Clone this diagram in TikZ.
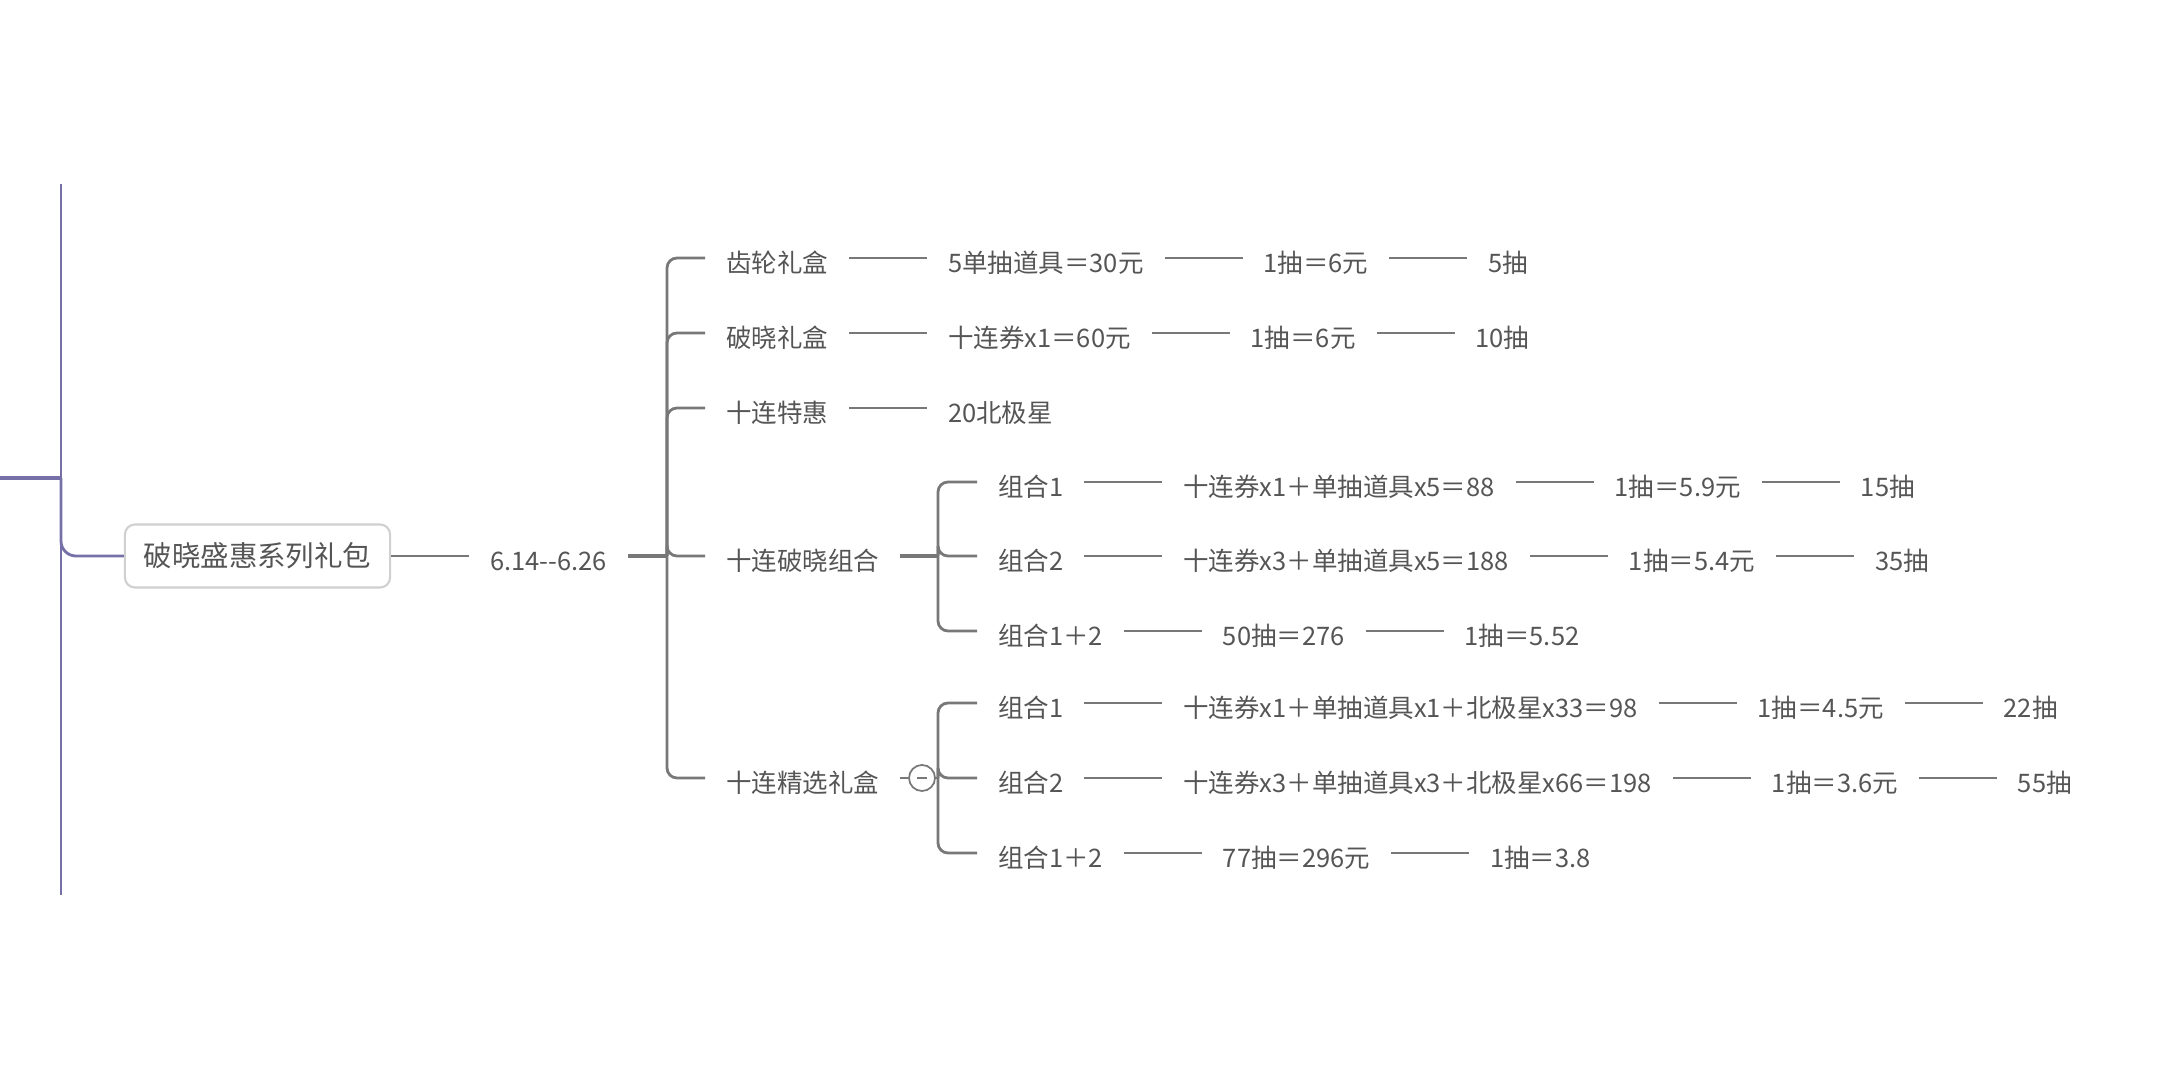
\documentclass[tikz,border=0pt]{standalone}
\usepackage{fontspec}
\setmainfont{Noto Sans CJK SC}
\usetikzlibrary{positioning}
\definecolor{linegray}{RGB}{120,120,120}
\definecolor{textgray}{RGB}{85,85,85}
\definecolor{boxgray}{RGB}{208,208,208}
\definecolor{mappurple}{RGB}{118,112,168}
\tikzset{
    line/.style={
        linegray,
        line width=0.6pt
    },
    trunk/.style={
        line,
        line width=0.8pt,
        rounded corners=0.1cm
    },
    joint/.style={
        line,
        line width=1.3pt
    },
    mapline/.style={
        mappurple,
        line width=0.8pt
    },
    item/.style={
        text=textgray,
        font=\fontsize{7.25pt}{8pt}\selectfont,
        inner xsep=0.21cm,
        inner ysep=0pt,
        text height=0.29cm,
        text depth=0cm,
        outer sep=0pt
    },
    follow/.style={
        item,
        right=0.78cm of #1
    },
    rootbox/.style={
        draw=boxgray,
        fill=white,
        line width=0.6pt,
        rounded corners=0.1cm,
        minimum width=2.65cm,
        minimum height=0.63cm,
        text=textgray,
        font=\fontsize{8.1pt}{9pt}\selectfont
    },
    fold/.style={
        circle,
        draw=linegray,
        line width=0.5pt,
        minimum size=0.26cm,
        inner sep=0pt
    }
}

\begin{document}
\begin{tikzpicture}[x=0.01cm, y=-0.01cm]
    \useasboundingbox (0, 0) rectangle (2160, 1080);

    % left edge of the map
    \coordinate (ptop) at (61, 184);
    \coordinate (pbot) at (61, 895);
    \coordinate (pleft) at (0, 478);
    \coordinate (pjoin) at (61, 478);

    \node [rootbox] (root) at (257.5, 556) {破晓盛惠系列礼包};
    \node [follow=root] (date) {6.14-{}-6.26};

    \draw [mapline] (ptop) -- (pbot);
    \draw [mapline, line width=1.2pt] (pleft) -- (pjoin);
    \draw [mapline, rounded corners=0.15cm] (pjoin) |- (root.west);

    % first level
    \coordinate (j1) at (667, 556);
    \node [item, anchor=west] (a1) at (705, 258) {齿轮礼盒};
    \node [follow=a1] (a2) {5单抽道具＝30元};
    \node [follow=a2] (a3) {1抽＝6元};
    \node [follow=a3] (a4) {5抽};

    \node [item, anchor=west] (b1) at (705, 333) {破晓礼盒};
    \node [follow=b1] (b2) {十连券x1＝60元};
    \node [follow=b2] (b3) {1抽＝6元};
    \node [follow=b3] (b4) {10抽};

    \node [item, anchor=west] (c1) at (705, 408) {十连特惠};
    \node [follow=c1] (c2) {20北极星};

    \node [item, anchor=west] (grp1) at (705, 556) {十连破晓组合};
    \node [item, anchor=west] (grp2) at (705, 778) {十连精选礼盒};

    % 十连破晓组合
    \coordinate (j2) at (938, 556);
    \node [item, anchor=west] (d1a) at (977, 482) {组合1};
    \node [follow=d1a] (d1b) {十连券x1＋单抽道具x5＝88};
    \node [follow=d1b] (d1c) {1抽＝5.9元};
    \node [follow=d1c] (d1d) {15抽};

    \node [item, anchor=west] (d2a) at (977, 556) {组合2};
    \node [follow=d2a] (d2b) {十连券x3＋单抽道具x5＝188};
    \node [follow=d2b] (d2c) {1抽＝5.4元};
    \node [follow=d2c] (d2d) {35抽};

    \node [item, anchor=west] (d3a) at (977, 631) {组合1＋2};
    \node [follow=d3a] (d3b) {50抽＝276};
    \node [follow=d3b] (d3c) {1抽＝5.52};

    % 十连精选礼盒
    \node [fold] (fold) at (922, 778) {};
    \coordinate (j3) at (938, 778);
    \node [item, anchor=west] (e1a) at (977, 703) {组合1};
    \node [follow=e1a] (e1b) {十连券x1＋单抽道具x1＋北极星x33＝98};
    \node [follow=e1b] (e1c) {1抽＝4.5元};
    \node [follow=e1c] (e1d) {22抽};

    \node [item, anchor=west] (e2a) at (977, 778) {组合2};
    \node [follow=e2a] (e2b) {十连券x3＋单抽道具x3＋北极星x66＝198};
    \node [follow=e2b] (e2c) {1抽＝3.6元};
    \node [follow=e2c] (e2d) {55抽};

    \node [item, anchor=west] (e3a) at (977, 853) {组合1＋2};
    \node [follow=e3a] (e3b) {77抽＝296元};
    \node [follow=e3b] (e3c) {1抽＝3.8};

    % connectors
    \foreach \a/\b in {root/date, a1/a2, a2/a3, a3/a4, b1/b2, b2/b3, b3/b4, c1/c2,
        d1a/d1b, d1b/d1c, d1c/d1d, d2a/d2b, d2b/d2c, d2c/d2d, d3a/d3b, d3b/d3c,
        e1a/e1b, e1b/e1c, e1c/e1d, e2a/e2b, e2b/e2c, e2c/e2d, e3a/e3b, e3b/e3c} {
        \draw [line] (\a.east) -- (\b.west);
    }

    \draw [joint] (date.east) -- (j1);
    \foreach \c in {a1, b1, c1, grp1, grp2} {
        \draw [trunk] (j1) |- (\c.west);
    }

    \draw [joint] (grp1.east) -- (j2);
    \foreach \c in {d1a, d2a, d3a} {
        \draw [trunk] (j2) |- (\c.west);
    }

    \draw [line] (grp2.east) -- (fold.west);
    \draw [line] (fold.east) -- (j3);
    \draw [line, line width=0.5pt] ([xshift=-0.05cm]fold.center) -- ([xshift=0.05cm]fold.center);
    \foreach \c in {e1a, e2a, e3a} {
        \draw [trunk] (j3) |- (\c.west);
    }
\end{tikzpicture}
\end{document}
